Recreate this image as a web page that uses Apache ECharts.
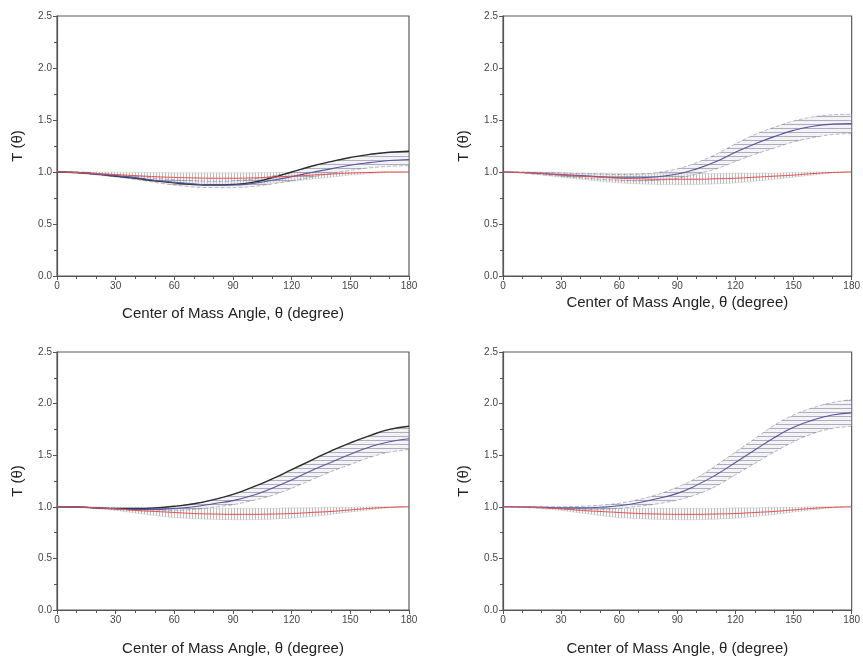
<!DOCTYPE html>
<html>
<head>
<meta charset="utf-8">
<script src="https://cdn.jsdelivr.net/npm/echarts@6/dist/echarts.min.js"></script>
<style>
  html, body { margin: 0; padding: 0; background: #fff; }
  #chart { width: 863px; height: 657px; }
</style>
</head>
<body>
<div id="chart"></div>
<script>
// Centre-of-mass angle grid (degrees)
const angle = [0, 10, 20, 30, 40, 50, 60, 70, 80, 90, 100, 110, 120, 130, 140, 150, 160, 170, 180];

// Panel 1 (top left)
const p1Blue  = [1.0, 0.995, 0.98, 0.965, 0.945, 0.92, 0.90, 0.885, 0.875, 0.875, 0.89, 0.92, 0.955, 0.995, 1.03, 1.065, 1.09, 1.11, 1.12];
const p1Lo    = [1.0, 0.99, 0.975, 0.955, 0.93, 0.90, 0.875, 0.855, 0.85, 0.85, 0.86, 0.885, 0.915, 0.95, 0.985, 1.015, 1.04, 1.055, 1.06];
const p1Hi    = [1.0, 1.0, 0.99, 0.975, 0.96, 0.94, 0.925, 0.915, 0.91, 0.915, 0.93, 0.96, 1.0, 1.05, 1.10, 1.14, 1.17, 1.19, 1.20];
const p1Black = [1.0, 0.995, 0.98, 0.96, 0.94, 0.915, 0.895, 0.88, 0.875, 0.88, 0.90, 0.945, 1.0, 1.055, 1.10, 1.14, 1.17, 1.19, 1.20];
const p1Red   = [1.0, 0.995, 0.985, 0.975, 0.965, 0.955, 0.948, 0.943, 0.94, 0.94, 0.943, 0.95, 0.96, 0.97, 0.98, 0.99, 0.995, 1.0, 1.0];
const p1RedLo = [1.0, 0.99, 0.97, 0.95, 0.93, 0.91, 0.895, 0.885, 0.88, 0.88, 0.885, 0.895, 0.91, 0.93, 0.95, 0.97, 0.985, 0.995, 1.0];
const p1RedHi = [1.0, 1.0, 1.0, 0.998, 0.995, 0.995, 0.993, 0.993, 0.993, 0.993, 0.993, 0.995, 0.995, 0.997, 0.998, 1.0, 1.0, 1.0, 1.0];

// Panel 2 (top right)
const p2Blue  = [1.0, 0.995, 0.985, 0.975, 0.965, 0.955, 0.945, 0.945, 0.955, 0.98, 1.03, 1.10, 1.19, 1.27, 1.34, 1.40, 1.44, 1.46, 1.465];
const p2Lo    = [1.0, 0.99, 0.975, 0.96, 0.945, 0.93, 0.92, 0.915, 0.92, 0.94, 0.98, 1.03, 1.10, 1.17, 1.23, 1.29, 1.33, 1.36, 1.37];
const p2Hi    = [1.0, 1.0, 0.995, 0.99, 0.985, 0.98, 0.975, 0.98, 0.995, 1.03, 1.09, 1.17, 1.27, 1.36, 1.43, 1.49, 1.53, 1.55, 1.555];
const p2Red   = [1.0, 0.995, 0.985, 0.97, 0.96, 0.95, 0.94, 0.935, 0.93, 0.93, 0.93, 0.935, 0.94, 0.95, 0.96, 0.97, 0.985, 0.995, 1.0];
const p2RedLo = [1.0, 0.99, 0.97, 0.95, 0.93, 0.91, 0.895, 0.885, 0.88, 0.88, 0.88, 0.885, 0.895, 0.91, 0.93, 0.95, 0.97, 0.99, 1.0];
const p2RedHi = [1.0, 1.0, 1.0, 0.995, 0.99, 0.99, 0.985, 0.985, 0.985, 0.985, 0.985, 0.985, 0.99, 0.99, 0.99, 0.995, 1.0, 1.0, 1.0];

// Panel 3 (bottom left)
const p3Blue  = [1.0, 0.997, 0.99, 0.98, 0.975, 0.975, 0.985, 1.0, 1.03, 1.06, 1.11, 1.18, 1.26, 1.35, 1.43, 1.51, 1.58, 1.63, 1.66];
const p3Lo    = [1.0, 0.995, 0.985, 0.975, 0.965, 0.96, 0.965, 0.975, 0.995, 1.02, 1.06, 1.11, 1.18, 1.26, 1.34, 1.41, 1.48, 1.53, 1.555];
const p3Hi    = [1.0, 0.998, 0.99, 0.985, 0.985, 0.99, 1.005, 1.03, 1.07, 1.12, 1.19, 1.27, 1.36, 1.45, 1.54, 1.62, 1.69, 1.75, 1.78];
const p3Black = [1.0, 0.998, 0.99, 0.985, 0.985, 0.99, 1.005, 1.03, 1.07, 1.12, 1.19, 1.27, 1.36, 1.45, 1.54, 1.62, 1.69, 1.75, 1.78];
const p3Red   = [1.0, 0.998, 0.99, 0.98, 0.965, 0.955, 0.945, 0.935, 0.93, 0.927, 0.927, 0.93, 0.935, 0.945, 0.955, 0.97, 0.985, 0.995, 1.0];
const p3RedLo = [1.0, 0.995, 0.98, 0.965, 0.94, 0.915, 0.895, 0.885, 0.878, 0.875, 0.875, 0.88, 0.89, 0.905, 0.925, 0.95, 0.97, 0.99, 1.0];
const p3RedHi = [1.0, 1.0, 1.0, 0.995, 0.99, 0.99, 0.985, 0.985, 0.985, 0.985, 0.985, 0.985, 0.99, 0.99, 0.995, 0.995, 1.0, 1.0, 1.0];

// Panel 4 (bottom right)
const p4Blue  = [1.0, 0.998, 0.995, 0.99, 0.99, 0.995, 1.01, 1.04, 1.08, 1.13, 1.21, 1.31, 1.43, 1.55, 1.67, 1.77, 1.84, 1.89, 1.91];
const p4Lo    = [1.0, 0.997, 0.99, 0.98, 0.975, 0.975, 0.985, 1.005, 1.03, 1.065, 1.12, 1.20, 1.31, 1.42, 1.53, 1.63, 1.71, 1.76, 1.78];
const p4Hi    = [1.0, 1.0, 1.0, 1.0, 1.005, 1.015, 1.035, 1.07, 1.12, 1.19, 1.28, 1.40, 1.53, 1.66, 1.79, 1.89, 1.96, 2.01, 2.04];
const p4Red   = [1.0, 0.998, 0.99, 0.98, 0.965, 0.955, 0.945, 0.935, 0.93, 0.927, 0.927, 0.93, 0.935, 0.945, 0.955, 0.97, 0.985, 0.995, 1.0];
const p4RedLo = [1.0, 0.995, 0.98, 0.965, 0.94, 0.915, 0.895, 0.885, 0.878, 0.875, 0.875, 0.88, 0.89, 0.905, 0.925, 0.95, 0.97, 0.99, 1.0];
const p4RedHi = [1.0, 1.0, 1.0, 0.995, 0.99, 0.99, 0.985, 0.985, 0.985, 0.985, 0.985, 0.985, 0.99, 0.99, 0.995, 0.995, 1.0, 1.0, 1.0];

// Axis ticks
const xTicks = [0, 30, 60, 90, 120, 150, 180];
const yTicks = [0.0, 0.5, 1.0, 1.5, 2.0, 2.5];

const xTitle = 'Center of Mass Angle, \u03b8 (degree)';
const yTitle = 'T (\u03b8)';

const panels = [
  { blue: p1Blue, lo: p1Lo, hi: p1Hi, black: p1Black, red: p1Red, redLo: p1RedLo, redHi: p1RedHi },
  { blue: p2Blue, lo: p2Lo, hi: p2Hi, black: null,    red: p2Red, redLo: p2RedLo, redHi: p2RedHi },
  { blue: p3Blue, lo: p3Lo, hi: p3Hi, black: p3Black, red: p3Red, redLo: p3RedLo, redHi: p3RedHi },
  { blue: p4Blue, lo: p4Lo, hi: p4Hi, black: null,    red: p4Red, redLo: p4RedLo, redHi: p4RedHi }
];

const boxes = [
  { left: 57,  top: 16,  width: 352, height: 260, nameGap: 30 },
  { left: 503, top: 16,  width: 353, height: 260, nameGap: 19 },
  { left: 57,  top: 352, width: 352, height: 259, nameGap: 31 },
  { left: 503, top: 352, width: 353, height: 259, nameGap: 31 }
];

// Hatch fills for the uncertainty bands
function hatch(horizontal, color, gap, bg) {
  const c = document.createElement('canvas');
  c.width = horizontal ? 8 : gap;
  c.height = horizontal ? gap : 8;
  const g = c.getContext('2d');
  g.fillStyle = bg;
  g.fillRect(0, 0, c.width, c.height);
  g.fillStyle = color;
  if (horizontal) g.fillRect(0, 0, c.width, 1);
  else g.fillRect(0, 0, 1, c.height);
  return c;
}
const hPattern = { image: hatch(true, 'rgba(110,110,128,0.5)', 4, 'rgba(222,222,234,0.4)'), repeat: 'repeat' };
const vPattern = { image: hatch(false, 'rgba(120,120,120,0.45)', 3, 'rgba(236,228,228,0.25)'), repeat: 'repeat' };

const pairs = ys => angle.map((a, i) => [a, ys[i]]);

// Smooth path (Catmull-Rom as cubic Bezier) through screen points
function curveSegs(pts) {
  let d = '';
  for (let i = 0; i < pts.length - 1; i++) {
    const p0 = pts[Math.max(0, i - 1)], p1 = pts[i], p2 = pts[i + 1], p3 = pts[Math.min(pts.length - 1, i + 2)];
    const c1 = [p1[0] + (p2[0] - p0[0]) / 6, p1[1] + (p2[1] - p0[1]) / 6];
    const c2 = [p2[0] - (p3[0] - p1[0]) / 6, p2[1] - (p3[1] - p1[1]) / 6];
    d += ' C' + c1[0] + ' ' + c1[1] + ' ' + c2[0] + ' ' + c2[1] + ' ' + p2[0] + ' ' + p2[1];
  }
  return d;
}

// Band between lo and hi arrays, drawn once through the axis scales
function bandSeries(idx, lo, hi, pattern, edgeStyle) {
  return {
    type: 'custom', xAxisIndex: idx, yAxisIndex: idx, silent: true, clip: true,
    data: [[angle[0], lo[0]]],
    renderItem: (params, api) => {
      const up = angle.map((a, k) => api.coord([a, hi[k]]));
      const dn = angle.map((a, k) => api.coord([a, lo[k]])).reverse();
      const fillPath = 'M' + up[0][0] + ' ' + up[0][1] + curveSegs(up) +
        ' L' + dn[0][0] + ' ' + dn[0][1] + curveSegs(dn) + ' Z';
      const upPath = 'M' + up[0][0] + ' ' + up[0][1] + curveSegs(up);
      const dnPath = 'M' + dn[0][0] + ' ' + dn[0][1] + curveSegs(dn);
      return {
        type: 'group',
        children: [
          { type: 'path', shape: { pathData: fillPath }, style: { fill: pattern, stroke: null } },
          { type: 'path', shape: { pathData: upPath }, style: Object.assign({ fill: null }, edgeStyle) },
          { type: 'path', shape: { pathData: dnPath }, style: Object.assign({ fill: null }, edgeStyle) }
        ]
      };
    }
  };
}

const font = 'Liberation Sans, Arial, sans-serif';
const grids = [], xAxes = [], yAxes = [], series = [];

boxes.forEach((b, i) => {
  grids.push({ left: b.left, top: b.top, width: b.width, height: b.height, show: true,
               borderColor: '#5a5a5a', borderWidth: 1.2, backgroundColor: 'transparent' });
  xAxes.push({
    type: 'value', gridIndex: i, min: 0, max: 180, interval: 30,
    name: xTitle, nameLocation: 'middle', nameGap: b.nameGap,
    nameTextStyle: { fontFamily: font, fontSize: 15, color: '#222' },
    axisLine: { show: true, lineStyle: { color: '#555', width: 1.2 } },
    axisTick: { show: true, length: 4, lineStyle: { color: '#555' } },
    minorTick: { show: true, splitNumber: 3, length: 3, lineStyle: { color: '#555' } },
    splitLine: { show: false },
    axisLabel: { fontFamily: font, fontSize: 10, color: '#444', margin: 5,
                 formatter: v => xTicks.includes(v) ? String(v) : '' }
  });
  yAxes.push({
    type: 'value', gridIndex: i, min: 0, max: 2.5, interval: 0.5,
    name: yTitle, nameLocation: 'middle', nameGap: 32, nameRotate: 90,
    nameTextStyle: { fontFamily: font, fontSize: 15, color: '#222' },
    axisLine: { show: true, lineStyle: { color: '#555', width: 1.2 } },
    axisTick: { show: true, length: 4, lineStyle: { color: '#555' } },
    minorTick: { show: true, splitNumber: 2, length: 3, lineStyle: { color: '#555' } },
    splitLine: { show: false },
    axisLabel: { fontFamily: font, fontSize: 10, color: '#444', margin: 5,
                 formatter: v => yTicks.some(t => Math.abs(t - v) < 1e-9) ? v.toFixed(1) : '' }
  });

  const p = panels[i];
  const lineCommon = { xAxisIndex: i, yAxisIndex: i, type: 'line', smooth: true, symbol: 'none',
                       silent: true, animation: false };

  // red band with vertical hatching
  series.push(bandSeries(i, p.redLo, p.redHi, vPattern,
    { stroke: 'rgba(140,140,140,0.35)', lineWidth: 0.6 }));
  // grey band with horizontal hatching
  series.push(bandSeries(i, p.lo, p.hi, hPattern,
    { stroke: 'rgba(90,90,110,0.5)', lineWidth: 0.8, lineDash: [4, 2] }));

  if (p.black) {
    series.push(Object.assign({}, lineCommon, {
      data: pairs(p.black), lineStyle: { color: '#2e2e2e', width: 1.4 }
    }));
  }
  series.push(Object.assign({}, lineCommon, {
    data: pairs(p.blue), lineStyle: { color: '#55559f', width: 1.1 }
  }));
  series.push(Object.assign({}, lineCommon, {
    data: pairs(p.red), lineStyle: { color: '#e45050', width: 1 }
  }));
});

const chart = echarts.init(document.getElementById('chart'), null, { renderer: 'canvas' });
chart.setOption({
  animation: false,
  backgroundColor: '#fff',
  grid: grids,
  xAxis: xAxes,
  yAxis: yAxes,
  series: series
});
</script>
</body>
</html>
